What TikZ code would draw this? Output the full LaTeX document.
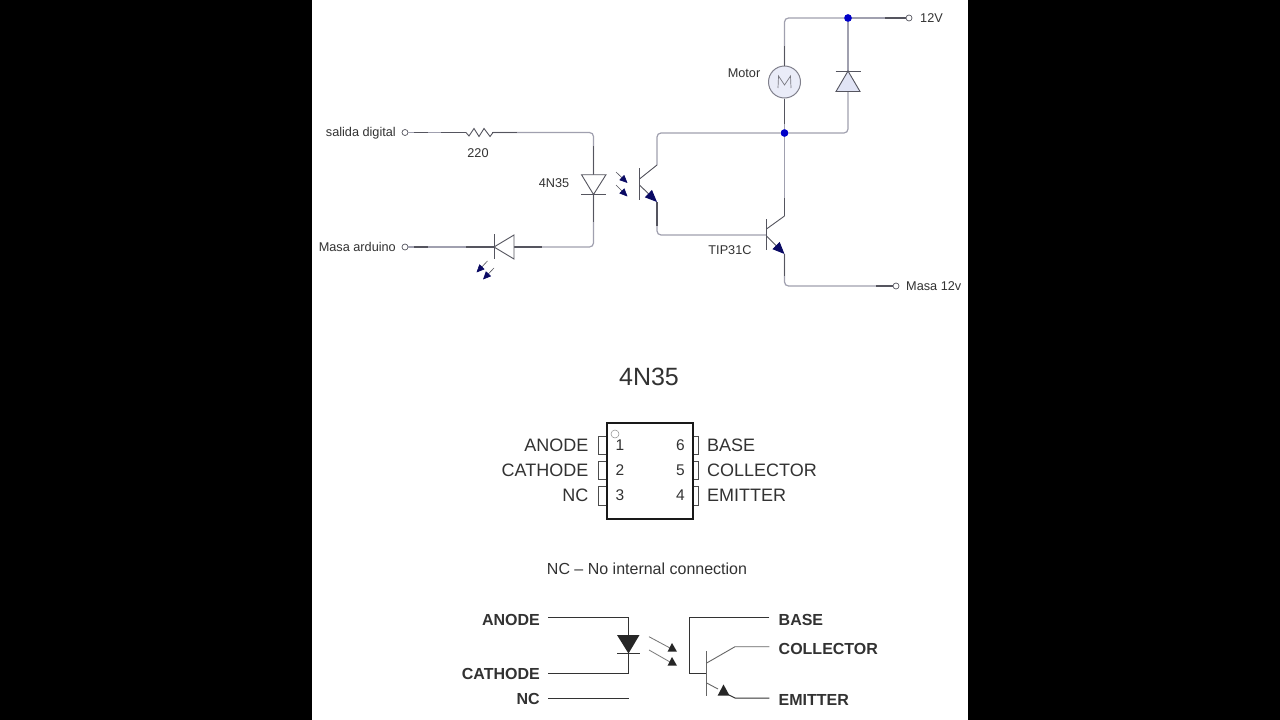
\documentclass[tikz,border=0pt]{standalone}
\usepackage{fontspec}
\setmainfont{Liberation Sans}
\usetikzlibrary{arrows.meta}
\definecolor{wiregray}{RGB}{160,160,175}
\definecolor{wiredark}{RGB}{85,85,95}
\definecolor{navyhead}{RGB}{10,10,100}
\definecolor{dotblue}{RGB}{0,0,200}
\definecolor{fillblue}{RGB}{225,228,245}
\definecolor{txt}{RGB}{50,50,50}
\newcommand{\fs}[1]{\fontsize{#1}{#1}\selectfont}
\tikzset{
  x=1pt,y=-1pt,
  wire/.style={draw=wiregray,line width=1.2pt,rounded corners=4pt},
  wiredk/.style={draw=wiredark,line width=1.2pt},
  sym/.style={draw=wiredark,line width=0.9pt},
  symfill/.style={draw=wiredark,line width=0.9pt,fill=fillblue},
  terminal/.style={circle,draw=wiredark,fill=white,line width=0.7pt,minimum size=6pt,inner sep=0pt},
  junction/.style={circle,fill=dotblue,minimum size=7.5pt,inner sep=0pt},
  lbl/.style={text=txt,inner sep=0pt,font=\fs{12.7}},
  pinlbl/.style={text=txt,inner sep=0pt,font=\fs{18}},
  numlbl/.style={text=txt,inner sep=0pt,font=\fs{15.5}},
  boldlbl/.style={text=txt,inner sep=0pt,font=\fs{16}\bfseries},
  led/.style={draw=wiredark,line width=0.6pt,-{Triangle[length=8pt,width=7pt,color=navyhead]}},
  emit/.style={draw=wiredark,line width=0.9pt,-{Triangle[length=12pt,width=10pt,color=navyhead]}},
  blk/.style={draw=black!80,line width=1pt},
  pin/.style={draw=black!70,line width=0.8pt},
  lite/.style={draw=black!55,line width=0.8pt},
  hd/.style={fill=black!85},
}
\begin{document}
\begin{tikzpicture}
\useasboundingbox (0,0) rectangle (1280,720);
\fill[black] (0,0) rectangle (1280,720);
\fill[white] (312,0) rectangle (968,720);

% ---- upper circuit: terminals
\node[terminal] (tsal) at (405,132.5) {};
\node[terminal] (tmas) at (405,247) {};
\node[terminal] (t12) at (909,18) {};
\node[terminal] (tm12) at (896,286) {};
\node[junction] (jtop) at (848,18) {};
\node[junction] (jmid) at (784.5,133) {};
\node[circle,draw=wiregray!80!black,fill=fillblue!70!white,line width=1pt,minimum size=32pt,inner sep=0pt] (motor) at (784.5,82) {};
\draw[draw=wiredark!80,line width=0.7pt] (778,88) -- (778.5,76) -- (784.5,85) -- (790.5,76) -- (791,88);

\coordinate (resL) at (466,132.5);
\coordinate (resR) at (493,132.5);
\coordinate (led1a) at (593.5,175);
\coordinate (led1k) at (593.5,194.5);
\coordinate (led2k) at (494,247);
\coordinate (led2a) at (514,247);
\coordinate (dk) at (848,71);
\coordinate (da) at (848,91.5);
\coordinate (q1c) at (657,165);
\coordinate (q1e) at (657,202);
\coordinate (q2b) at (766.5,235);
\coordinate (q2c) at (784.5,216);
\coordinate (q2e) at (784.5,254);
\coordinate (cTL) at (784.5,18);
\coordinate (cL) at (657,133);
\coordinate (cR) at (848,133);
\coordinate (cS) at (593.5,132.5);
\coordinate (cM) at (593.5,247);
\coordinate (cB) at (657,235);
\coordinate (cG) at (784.5,286);

% wires
\draw[wire] (tsal) -- (resL);
\draw[wire] (resR) -- (cS) -- (led1a);
\draw[wire] (led1k) -- (cM) -- (led2a);
\draw[wire] (led2k) -- (tmas);
\draw[wire] (motor) -- (cTL) -- (jtop);
\draw[wire] (jtop) -- (t12);
\draw[wire] (jtop) -- (dk);
\draw[wire] (da) -- (cR) -- (jmid);
\draw[wire] (motor) -- (jmid);
\draw[wire] (jmid) -- (cL) -- (q1c);
\draw[wire] (jmid) -- (q2c);
\draw[wire] (q1e) -- (cB) -- (q2b);
\draw[wire] (q2e) -- (cG) -- (tm12);
% darker wire portions next to components
\draw[wiredk] (784.5,46) -- (motor.north);
\draw[wiredk] (motor.south) -- (784.5,124);
\draw[wiredk] (593.5,146) -- (led1a);
\draw[wiredk] (led1k) -- (593.5,222);
\draw[wiredk] (657,202) -- (657,226);
\draw[wiredk] (784.5,254) -- (784.5,276);
\draw[wiredk] (784.5,198) -- (784.5,216);
\draw[wiredk] (466,247) -- (542,247);
\draw[wiredk] (885,18) -- (t12);
\draw[wiredk] (876,286) -- (tm12);
\draw[wiredk] (414,132.5) -- (428,132.5) (441,132.5) -- (466,132.5) (492,132.5) -- (517,132.5);
\draw[wiredk] (414,247) -- (428,247);

% resistor
\draw[sym] (resL) -- (469,136) -- (474,128.5) -- (479,136.5) -- (484,128.5) -- (490,136.5) -- (resR);
% LED in optocoupler
\draw[symfill,fill=white] (581.5,174.7) -- (606,174.7) -- (led1k) -- cycle;
\draw[sym] (581,194.7) -- (606,194.7);
\draw[led] (616,172) -- (627.5,183);
\draw[led] (616,185) -- (627.5,196.5);
% indicator LED
\draw[symfill,fill=white] (led2k) -- (514,235) -- (514,259) -- cycle;
\draw[sym] (494,234) -- (494,259);
\draw[led] (487.5,261) -- (476.5,272.5);
\draw[led] (494,268) -- (483,279.5);
% freewheel diode
\draw[symfill] (dk) -- (836,91.5) -- (860,91.5) -- cycle;
\draw[sym] (835.5,71) -- (860.5,71);
% phototransistor
\draw[sym] (639.5,168) -- (639.5,199.5);
\draw[sym] (639.5,179) -- (q1c);
\draw[emit] (639.5,185) -- (q1e);
% TIP31C
\draw[sym] (766.5,219) -- (766.5,250);
\draw[sym] (766.5,229) -- (q2c);
\draw[emit] (766.5,236) -- (q2e);

\fill[dotblue] (jtop) circle (3.7);
\fill[dotblue] (jmid) circle (3.7);

% labels
\node[lbl,anchor=east] (lsal) at (396,133) {salida digital};
\node[lbl,anchor=east] (lmas) at (396,247) {Masa arduino};
\node[lbl] (l220) at (478,153) {220};
\node[lbl] (l4n) at (554,183) {4N35};
\node[lbl] (lmot) at (744,73.5) {Motor};
\node[lbl,anchor=west] (l12) at (920,18) {12V};
\node[lbl] (ltip) at (730,250.5) {TIP31C};
\node[lbl,anchor=west] (lm12) at (906,286) {Masa 12v};

% ---- pinout
\node[text=txt,inner sep=0pt,font=\fs{25}] (title) at (649,377) {4N35};
\draw[pin] (606.7,436) -| (598,454.5) -- (606.7,454.5);
\draw[pin] (606.7,461.7) -| (598,479.3) -- (606.7,479.3);
\draw[pin] (606.7,486.7) -| (598,505) -- (606.7,505);
\draw[pin] (692.7,436) -| (698.5,454.5) -- (692.7,454.5);
\draw[pin] (692.7,461.7) -| (698.5,479.3) -- (692.7,479.3);
\draw[pin] (692.7,486.7) -| (698.5,505) -- (692.7,505);
\node[draw=black!90,line width=2pt,minimum width=86pt,minimum height=96pt,inner sep=0pt] (ic) at (649.7,471) {};
\node[circle,draw=black!45,line width=0.5pt,minimum size=8pt,inner sep=0pt] (notch) at (615,434) {};
\node[numlbl] (n1) at (620,445.5) {1};
\node[numlbl] (n2) at (620,470.5) {2};
\node[numlbl] (n3) at (620,495) {3};
\node[numlbl] (n6) at (680.5,445.5) {6};
\node[numlbl] (n5) at (680.5,470.5) {5};
\node[numlbl] (n4) at (680.5,495) {4};
\node[pinlbl,anchor=east] (pa) at (588.5,445.5) {ANODE};
\node[pinlbl,anchor=east] (pc) at (588.5,470.5) {CATHODE};
\node[pinlbl,anchor=east] (pn) at (588.5,495) {NC};
\node[pinlbl,anchor=west] (pb) at (707,445.5) {BASE};
\node[pinlbl,anchor=west] (pl) at (707,470.5) {COLLECTOR};
\node[pinlbl,anchor=west] (pe) at (707,495) {EMITTER};
\node[text=txt,inner sep=0pt,font=\fs{16}] (note) at (647,569) {NC – No internal connection};

% ---- internal schematic
\node[boldlbl,anchor=east] (ba) at (540,619.5) {ANODE};
\node[boldlbl,anchor=east] (bc) at (540,673.5) {CATHODE};
\node[boldlbl,anchor=east] (bn) at (540,699) {NC};
\node[boldlbl,anchor=west] (bb) at (778.5,619.5) {BASE};
\node[boldlbl,anchor=west] (bl) at (778.5,648.5) {COLLECTOR};
\node[boldlbl,anchor=west] (be) at (778.5,700) {EMITTER};
\coordinate (aL) at (548,617.5);
\coordinate (aR) at (628.5,617.5);
\coordinate (cthL) at (548,673.5);
\coordinate (cthR) at (628.5,673.5);
\coordinate (nL) at (548,698.5);
\coordinate (nR) at (628.5,698.5);
\coordinate (bR) at (769.3,617.5);
\coordinate (bT) at (689.3,617.5);
\coordinate (bB) at (689.3,673.3);
\coordinate (bE) at (706.7,673.3);
\coordinate (cR2) at (769.3,646.7);
\coordinate (cK) at (735,646.7);
\coordinate (eR) at (769.3,698);
\coordinate (eK) at (735,698);
\draw[blk] (aL) -- (aR) -- (cthR) -- (cthL);
\draw[blk] (nL) -- (nR);
\fill[hd] (617,635) -- (639.5,635) -- (628.5,653.5) -- cycle;
\draw[blk] (617,653.5) -- (639.5,653.5);
\draw[lite] (649,636.7) -- (670,648);
\draw[lite] (649,650) -- (670,662);
\fill[hd] (667.5,651.7) -- (677,651.7) -- (672,643) -- cycle;
\fill[hd] (667.5,665.7) -- (677,665.7) -- (672,657) -- cycle;
\draw[blk] (bR) -- (bT) -- (bB) -- (bE);
\draw[draw=black!60,line width=1.3pt] (706.7,651) -- (706.7,696);
\draw[draw=black!60,line width=0.9pt] (706.7,663) -- (cK) -- (cR2);
\draw[draw=black!60,line width=0.9pt] (706.7,683) -- (718,689);
\draw[blk] (729,695) -- (eK) -- (eR);
\fill[hd] (717.7,695.5) -- (729.5,695.5) -- (723.5,684.5) -- cycle;
\end{tikzpicture}
\end{document}
